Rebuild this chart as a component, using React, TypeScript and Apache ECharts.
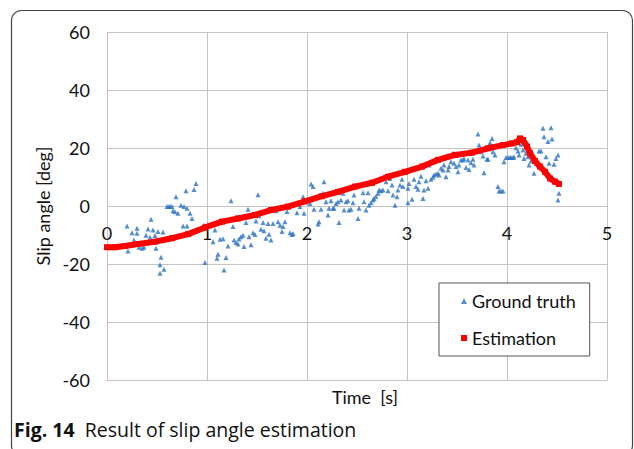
import React, { useEffect, useRef } from "react";
import * as echarts from "echarts";

const xTicks = [0, 1, 2, 3, 4, 5];
const yTicks = [-60, -40, -20, 0, 20, 40, 60];
const seriesNames = ["Ground truth", "Estimation"];
const xTitle = "Time  [s]";
const yTitle = "Slip angle [deg]";
const captionBold = "Fig. 14";
const captionText = "Result of slip angle estimation";

// [time s, slip angle deg]
const groundTruth: number[][] = [
  [0.20,-6.9],[0.21,-15.5],[0.25,-9.2],[0.27,-11.7],[0.30,-7.7],[0.30,-9.4],[0.32,-14.2],[0.35,-14.6],[0.37,-14.2],[0.39,-10.1],
  [0.41,-7.9],[0.43,-10.8],[0.44,-4.6],[0.46,-8.3],[0.48,-10.2],[0.49,-14.6],[0.51,-8.8],[0.53,-20.3],[0.53,-23.2],[0.54,-17.7],
  [0.56,-9.0],[0.57,-21.8],[0.60,-0.2],[0.62,-0.2],[0.63,-0.2],[0.65,-0.2],[0.66,-1.6],[0.68,-2.0],[0.69,3.2],[0.71,-2.5],
  [0.74,0.3],[0.76,-6.9],[0.77,-0.2],[0.79,5.3],[0.80,-0.8],[0.80,-6.9],[0.83,-2.5],[0.85,-4.3],[0.87,5.7],[0.89,7.8],
  [0.97,-6.6],[0.98,-19.5],
  [1.06,-12.3],[1.08,-8.3],[1.10,-18.0],[1.11,-16.6],[1.13,-11.5],[1.16,-11.3],[1.17,-22.1],[1.19,-17.8],[1.21,-13.8],[1.24,1.8],
  [1.26,-7.1],[1.27,-11.7],[1.29,-12.6],[1.31,-13.1],[1.32,-11.4],[1.34,-10.6],[1.36,-10.1],[1.37,-14.0],[1.39,-5.7],[1.41,-1.1],
  [1.42,-10.6],[1.44,-13.4],[1.46,-9.2],[1.48,-9.8],[1.49,-5.2],[1.51,3.9],[1.52,-3.4],[1.54,-8.0],[1.56,-5.7],[1.57,-8.5],
  [1.59,-11.1],[1.61,-6.0],[1.62,-9.7],[1.64,-11.7],[1.66,-6.0],[1.69,-1.6],[1.71,-5.4],[1.73,-6.6],[1.75,-8.8],[1.76,-7.1],
  [1.78,-5.4],[1.80,-1.9],[1.83,-9.2],[1.85,-9.8],[1.86,-9.5],[1.90,-2.3],[1.93,-0.2],[1.96,3.2],[1.97,-2.5],
  [2.03,0.9],[2.04,7.6],[2.06,6.7],[2.07,-1.1],[2.11,-6.2],[2.12,-5.4],[2.14,-1.1],[2.16,4.4],[2.17,8.4],[2.19,1.5],
  [2.21,-3.1],[2.22,-0.8],[2.24,1.8],[2.26,-0.8],[2.27,-0.8],[2.29,0.9],[2.31,1.5],[2.32,-5.7],[2.34,2.1],[2.36,4.4],
  [2.37,-1.4],[2.39,1.5],[2.41,1.8],[2.42,-1.4],[2.44,-1.1],[2.46,1.1],[2.47,3.8],[2.51,-4.3],[2.52,-0.8],[2.56,4.6],
  [2.57,1.5],[2.59,-1.4],[2.61,4.6],[2.62,0.3],[2.64,1.1],[2.66,2.1],[2.67,2.6],[2.69,3.4],[2.71,4.4],[2.72,5.5],
  [2.74,5.3],[2.76,5.5],[2.77,10.1],[2.79,8.4],[2.81,5.3],[2.83,9.5],[2.85,7.2],[2.86,3.8],[2.88,0.3],[2.90,3.2],
  [2.91,5.5],[2.93,7.2],[2.95,9.2],[2.96,6.7],
  [3.01,6.1],[3.01,1.1],[3.02,7.8],[3.05,2.3],[3.07,9.2],[3.09,6.7],[3.11,5.8],[3.12,8.4],[3.14,10.3],[3.16,2.6],
  [3.17,5.5],[3.19,8.7],[3.21,6.1],[3.22,14.1],[3.24,9.2],[3.26,9.9],[3.27,10.7],[3.29,11.0],[3.31,11.3],[3.32,10.7],
  [3.34,13.0],[3.36,12.4],[3.37,14.1],[3.39,10.1],[3.41,12.4],[3.42,13.6],[3.44,15.3],[3.46,18.2],[3.47,14.7],[3.49,13.6],
  [3.51,11.8],[3.52,14.1],[3.54,15.9],[3.56,15.9],[3.57,16.4],[3.59,13.3],[3.61,15.9],[3.62,12.6],[3.64,14.9],[3.66,16.1],
  [3.67,14.1],[3.71,24.8],[3.72,21.0],[3.74,18.7],[3.76,17.2],[3.77,11.5],[3.80,16.1],[3.81,16.1],[3.83,21.8],[3.85,23.3],
  [3.86,18.7],[3.88,17.6],[3.91,6.7],[3.92,5.2],[3.94,5.2],[3.96,5.2],[3.97,15.3],[3.99,16.7],[4.01,16.7],[4.03,16.7],
  [4.04,16.7],[4.06,16.7],[4.07,16.9],[4.09,20.1],[4.11,19.0],[4.12,17.6],[4.14,21.3],[4.16,19.3],[4.17,16.4],[4.19,18.2],
  [4.21,17.0],[4.22,14.1],[4.24,15.5],[4.26,17.0],[4.27,11.3],[4.29,14.7],[4.31,14.1],[4.32,19.0],[4.34,19.0],[4.36,26.8],
  [4.37,23.9],[4.39,17.0],[4.41,22.2],[4.42,14.7],[4.44,27.0],[4.45,23.1],[4.47,14.4],[4.49,16.4],[4.51,17.6],[4.51,2.1],
  [4.52,4.4],
];

const estimation: number[][] = [
  [0.00,-14.2],[0.08,-14.2],[0.18,-13.8],[0.31,-13.1],[0.48,-12.3],[0.65,-11.1],[0.81,-9.7],[0.98,-7.4],[1.15,-5.4],[1.31,-4.3],
  [1.48,-3.1],[1.64,-1.4],[1.81,-0.2],[1.98,1.6],[2.15,3.4],[2.31,4.9],[2.48,6.7],[2.65,8.0],[2.81,10.1],[2.98,11.8],
  [3.15,13.6],[3.31,15.9],[3.48,17.6],[3.65,18.4],[3.81,19.9],[3.96,21.0],[4.05,21.6],[4.10,22.0],[4.13,23.3],[4.16,22.8],
  [4.20,20.5],[4.23,18.2],[4.28,15.5],[4.33,13.6],[4.38,11.8],[4.43,9.5],[4.48,8.4],[4.52,7.6],
];

const FONT = "Lato";
const GRID_COLOR = "#c4c4c4";

export default function App() {
  const ref = useRef<HTMLDivElement>(null);
  useEffect(() => {
    if (!ref.current) return;
    const chart = echarts.init(ref.current, null, { renderer: "svg" });
    chart.setOption({
      animation: false,
      backgroundColor: "#ffffff",
      grid: { left: 107, top: 32, right: 27, bottom: 69, containLabel: false, outerBoundsMode: "none" },
      xAxis: {
        type: "value",
        min: xTicks[0],
        max: xTicks[xTicks.length - 1],
        interval: 1,
        name: xTitle,
        nameLocation: "middle",
        nameGap: 8,
        nameTextStyle: { fontFamily: FONT, fontSize: 18, color: "#111", padding: [0, 0, 0, 16] },
        axisLine: { show: true, onZero: false, lineStyle: { color: GRID_COLOR, width: 1 } },
        axisTick: { show: false },
        // tick labels sit on the zero line, as in the reference
        axisLabel: { fontFamily: FONT, fontSize: 18, color: "#111", margin: -156 },
        splitLine: { show: true, lineStyle: { color: GRID_COLOR, width: 1 } },
      },
      yAxis: {
        type: "value",
        min: yTicks[0],
        max: yTicks[yTicks.length - 1],
        interval: 20,
        name: yTitle,
        nameLocation: "middle",
        nameGap: 50,
        nameTextStyle: { fontFamily: FONT, fontSize: 18, color: "#111" },
        axisLine: { show: true, onZero: false, lineStyle: { color: GRID_COLOR, width: 1 } },
        axisTick: { show: false },
        axisLabel: { fontFamily: FONT, fontSize: 18, color: "#111", margin: 17 },
        splitLine: { show: true, lineStyle: { color: GRID_COLOR, width: 1 } },
      },
      legend: {
        orient: "vertical",
        left: 439,
        top: 283,
        backgroundColor: "#ffffff",
        borderColor: "#555",
        borderWidth: 1,
        padding: [8, 14, 8, 22],
        itemGap: 17,
        itemWidth: 6,
        itemHeight: 6,
        textStyle: { fontFamily: FONT, fontSize: 18, color: "#111", lineHeight: 20 },
        data: [
          { name: seriesNames[0], icon: "triangle" },
          { name: seriesNames[1], icon: "rect" },
        ],
      },
      series: [
        {
          name: seriesNames[0],
          type: "scatter",
          symbol: "triangle",
          symbolSize: 5,
          itemStyle: { color: "#2a72c0" },
          data: groundTruth,
          z: 2,
        },
        {
          name: seriesNames[1],
          type: "line",
          symbol: "rect",
          symbolSize: 6,
          showSymbol: true,
          lineStyle: { color: "#ff0000", width: 6 },
          itemStyle: { color: "#ff0000" },
          data: estimation,
          z: 3,
        },
      ],
      graphic: [
        {
          type: "rect",
          shape: { x: 11.5, y: 10.5, width: 621, height: 445, r: 10 },
          style: { fill: "none", stroke: "#444", lineWidth: 1.2 },
          silent: true,
          z: -1,
        },
        {
          type: "text",
          left: 14,
          top: 419,
          style: {
            text: "{b|" + captionBold + "}  " + captionText,
            fontFamily: "Open Sans",
            fontSize: 19.5,
            fill: "#111",
            rich: {
              b: { fontFamily: "Open Sans", fontSize: 19.5, fontWeight: "bold", fill: "#111" },
            },
          },
        },
      ],
    });
    return () => chart.dispose();
  }, []);
  return (
    <div
      ref={ref}
      style={{ position: "fixed", left: 0, top: 0, width: 634, height: 449, background: "#fff" }}
    />
  );
}
